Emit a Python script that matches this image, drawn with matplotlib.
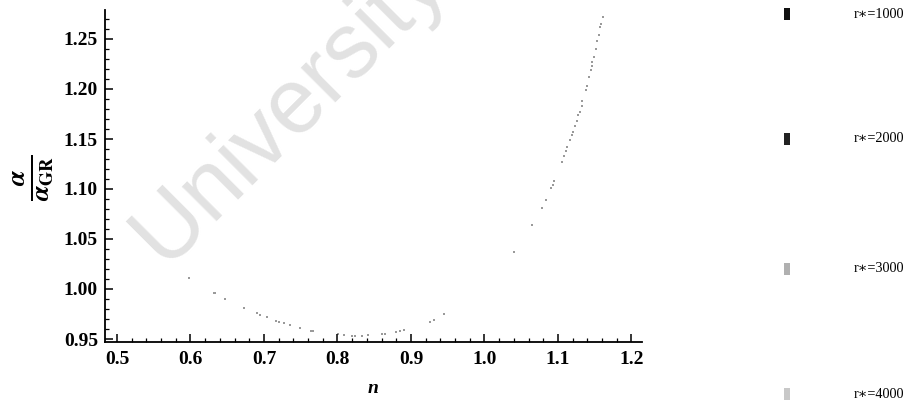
import matplotlib
matplotlib.use("Agg")
import matplotlib.pyplot as plt
from matplotlib.ticker import MultipleLocator, FormatStrFormatter
from matplotlib.patches import Rectangle

# ---- data ----
n_vals = [0.5976, 0.6315, 0.6338, 0.6465, 0.6723, 0.6905, 0.6940, 0.7041, 0.7167,
          0.7198, 0.7266, 0.7348, 0.7493, 0.7639, 0.7666, 0.8014, 0.8091, 0.8196,
          0.8240, 0.8332, 0.8421, 0.8603, 0.8648, 0.8798, 0.8852, 0.8906, 0.9260,
          0.9314, 0.9454, 1.0405, 1.0649, 1.0785, 1.0836, 1.0908, 1.0927, 1.0948,
          1.1053, 1.1080, 1.1107, 1.1125, 1.1162, 1.1185, 1.1207, 1.1230, 1.1253,
          1.1274, 1.1298, 1.1321, 1.1329, 1.1379, 1.1389, 1.1420, 1.1447, 1.1457,
          1.1470, 1.1488, 1.1515, 1.1538, 1.1556, 1.1569, 1.1592, 1.1614]
ratio_vals = [1.0108, 0.9957, 0.9957, 0.9900, 0.9813, 0.9757, 0.9743, 0.9717, 0.9677,
              0.9673, 0.9657, 0.9640, 0.9607, 0.9583, 0.9583, 0.9550, 0.9540, 0.9533,
              0.9530, 0.9530, 0.9537, 0.9550, 0.9550, 0.9567, 0.9580, 0.9587, 0.9673,
              0.9690, 0.9747, 1.0368, 1.0638, 1.0814, 1.0894, 1.1009, 1.1042, 1.1079,
              1.1269, 1.1329, 1.1375, 1.1419, 1.1492, 1.1542, 1.1569, 1.1625, 1.1675,
              1.1742, 1.1769, 1.1832, 1.1875, 1.1993, 1.2033, 1.2116, 1.2186, 1.2226,
              1.2273, 1.2320, 1.2400, 1.2476, 1.2543, 1.2620, 1.2650, 1.2720]
legend_labels = ["r\u2217=1000", "r\u2217=2000", "r\u2217=3000", "r\u2217=4000"]
legend_colors = ["#111111", "#222222", "#b0b0b0", "#c8c8c8"]
x_ticks = [0.5, 0.6, 0.7, 0.8, 0.9, 1.0, 1.1, 1.2]
y_ticks = [0.95, 1.00, 1.05, 1.10, 1.15, 1.20, 1.25]

plt.rcParams["mathtext.fontset"] = "stix"
SERIF = ["Liberation Serif", "DejaVu Serif"]

fig = plt.figure(figsize=(9.06, 4.05), dpi=100)

# watermark
fig.text(0.182, 0.341, "University", fontsize=66,
         family="Liberation Sans", color="#e2e2e2", rotation=45,
         rotation_mode="anchor", ha="left", va="baseline", zorder=0)

ax = fig.add_axes([105 / 906, 1 - 341.7 / 405, (642 - 105) / 906, (341.7 - 10) / 405])
ax.patch.set_alpha(0)

ax.scatter(n_vals, ratio_vals, s=1.0, marker="s", color="#9a9a9a", linewidths=0)

ax.set_xlim(0.4837, 1.2144)
ax.set_ylim(0.9473, 1.279)

for s in ["top", "right"]:
    ax.spines[s].set_visible(False)
for s in ["left", "bottom"]:
    ax.spines[s].set_linewidth(1.3)
    ax.spines[s].set_color("black")

ax.set_xticks(x_ticks)
ax.set_yticks(y_ticks)
ax.xaxis.set_minor_locator(MultipleLocator(0.02))
ax.yaxis.set_minor_locator(MultipleLocator(0.01))
ax.yaxis.set_major_formatter(FormatStrFormatter("%.2f"))
ax.xaxis.set_major_formatter(FormatStrFormatter("%.1f"))
ax.tick_params(which="major", direction="in", length=6, width=1.1, pad=7)
ax.tick_params(which="minor", direction="in", length=3, width=0.9)
ax.tick_params(axis="y", which="major", pad=5)
for lab in ax.get_xticklabels() + ax.get_yticklabels():
    lab.set_family("Liberation Serif")
    lab.set_fontweight("bold")
    lab.set_fontsize(14)

ax.set_xlabel("n", family="Liberation Serif", fontweight="bold", style="italic",
              fontsize=14, labelpad=8)
ylab = fig.text(0.036, 0.56, r"$\frac{\boldsymbol{\alpha}}{\boldsymbol{\alpha}_{\mathbf{GR}}}$",
                fontsize=27, rotation=90, ha="center", va="center")

# legend
leg_y = [1 - 14 / 405, 1 - 139 / 405, 1 - 269 / 405, 1 - 394 / 405]
for lab, col, yy in zip(legend_labels, legend_colors, leg_y):
    fig.patches.append(Rectangle((784 / 906, yy - 6 / 405), 6 / 906, 12 / 405,
                                 transform=fig.transFigure, facecolor=col,
                                 edgecolor="none"))
    fig.text(854 / 906, yy, lab, family=SERIF, fontsize=10.3,
             ha="left", va="center")

try:
    fig.savefig("out.png", dpi=100)
except Exception:
    ylab.set_text(r"$\mathbf{\frac{\alpha}{\alpha_{GR}}}$")
    fig.savefig("out.png", dpi=100)
